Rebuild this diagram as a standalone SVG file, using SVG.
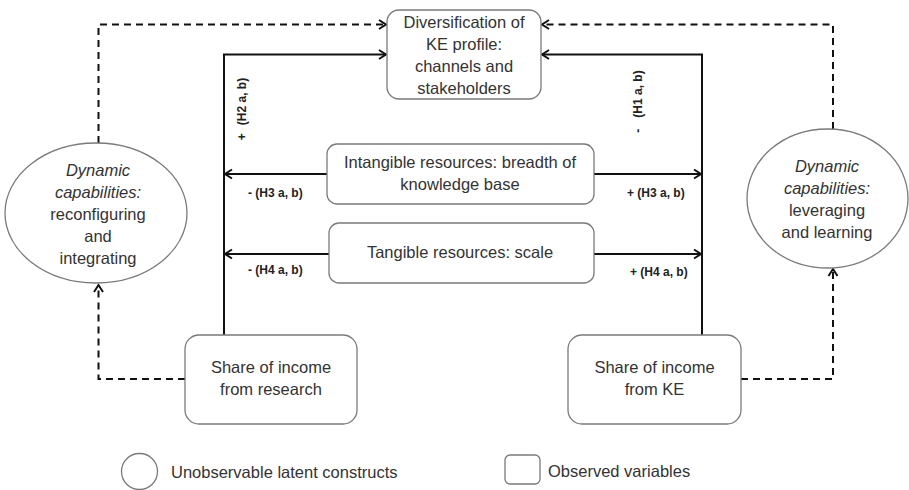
<svg xmlns="http://www.w3.org/2000/svg" width="909" height="490" viewBox="0 0 909 490">
<style>
  .box { fill: #ffffff; stroke: #7a7a7a; stroke-width: 1.3; }
  .t { font-family: "Liberation Sans", Arial, sans-serif; font-size: 16.5px; fill: #333333; text-anchor: middle; }
  .it { font-style: italic; }
  .lbl { font-family: "Liberation Sans", Arial, sans-serif; font-size: 12px; font-weight: bold; fill: #222222; }
  .solid { fill: none; stroke: #111111; stroke-width: 2; marker-end: url(#arr); }
  .dash { fill: none; stroke: #111111; stroke-width: 2; stroke-dasharray: 7 5; marker-end: url(#arr); }
  .leg { font-family: "Liberation Sans", Arial, sans-serif; font-size: 16.5px; fill: #333333; }
</style>
<defs>
  <marker id="arr" markerUnits="userSpaceOnUse" markerWidth="12" markerHeight="12" refX="9" refY="6" orient="auto">
    <path d="M2,1.5 L9,6 L2,10.5" fill="none" stroke="#111111" stroke-width="2"/>
  </marker>
</defs>
<rect width="909" height="490" fill="#ffffff"/>

<g id="connectors">
  <path class="solid" d="M224,335 V54.5 H386"/>
  <path class="solid" d="M702,335 V54.5 H542"/>
  <path class="solid" d="M327,174 H225"/>
  <path class="solid" d="M594,174 H701"/>
  <path class="solid" d="M329,254 H225"/>
  <path class="solid" d="M594,254 H701"/>
  <path class="dash" d="M98.5,143 V24.5 H386"/>
  <path class="dash" d="M833,129 V24.5 H542"/>
  <path class="dash" d="M185,379 H98.5 V285"/>
  <path class="dash" d="M741,379 H833 V269"/>
  <text class="lbl" transform="translate(246,109) rotate(-90)" text-anchor="middle">+<tspan dx="8">(H2 a, b)</tspan></text>
  <text class="lbl" transform="translate(642,101.5) rotate(-90)" text-anchor="middle">-<tspan dx="11">(H1 a, b)</tspan></text>
  <text class="lbl" x="248" y="197">- (H3 a, b)</text>
  <text class="lbl" x="248" y="274">- (H4 a, b)</text>
  <text class="lbl" x="627" y="197">+ (H3 a, b)</text>
  <text class="lbl" x="630" y="276">+ (H4 a, b)</text>
</g>

<g id="node-diversification">
  <rect class="box" x="387" y="10" width="154" height="89" rx="12"/>
  <text class="t" x="464" y="28">Diversification of</text>
  <text class="t" x="464" y="50">KE profile:</text>
  <text class="t" x="464" y="72">channels and</text>
  <text class="t" x="464" y="94">stakeholders</text>
</g>

<g id="node-intangible">
  <rect class="box" x="327" y="144" width="267" height="60" rx="10"/>
  <text class="t" x="460" y="168">Intangible resources: breadth of</text>
  <text class="t" x="460" y="190">knowledge base</text>
</g>

<g id="node-tangible">
  <rect class="box" x="329" y="223" width="265" height="60" rx="10"/>
  <text class="t" x="460" y="258">Tangible resources: scale</text>
</g>

<g id="node-research">
  <rect class="box" x="185" y="335" width="172" height="89" rx="14"/>
  <text class="t" x="271" y="373">Share of income</text>
  <text class="t" x="271" y="395">from research</text>
</g>

<g id="node-ke">
  <rect class="box" x="568" y="335" width="173" height="89" rx="14"/>
  <text class="t" x="654.5" y="373">Share of income</text>
  <text class="t" x="654.5" y="395">from KE</text>
</g>

<g id="node-dc-left">
  <ellipse class="box" cx="96" cy="213" rx="91" ry="70"/>
  <text class="t it" x="98" y="176">Dynamic</text>
  <text class="t it" x="98" y="198">capabilities:</text>
  <text class="t" x="98" y="220">reconfiguring</text>
  <text class="t" x="98" y="242">and</text>
  <text class="t" x="98" y="264">integrating</text>
</g>

<g id="node-dc-right">
  <ellipse class="box" cx="827.5" cy="198.5" rx="80.5" ry="69.5"/>
  <text class="t it" x="827" y="172">Dynamic</text>
  <text class="t it" x="827" y="194">capabilities:</text>
  <text class="t" x="827" y="216">leveraging</text>
  <text class="t" x="827" y="238">and learning</text>
</g>

<g id="legend-latent">
  <circle class="box" cx="139.5" cy="471.5" r="18"/>
  <text class="leg" x="171" y="478">Unobservable latent constructs</text>
</g>

<g id="legend-observed">
  <rect class="box" x="505" y="455" width="35" height="29" rx="5"/>
  <text class="leg" x="548" y="477">Observed variables</text>
</g>
</svg>
